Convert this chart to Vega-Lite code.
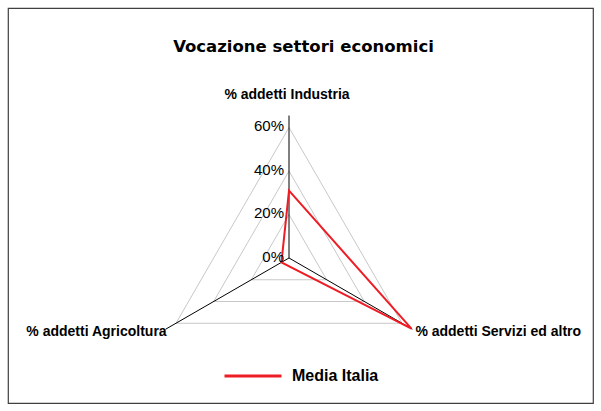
{
  "$schema": "https://vega.github.io/schema/vega-lite/v6.json",
  "autosize": "none",
  "width": 585,
  "height": 395,
  "padding": {"left": 8, "top": 8, "right": 8, "bottom": 8},
  "background": "white",
  "config": {
    "view": {"stroke": "#404040", "strokeWidth": 1.2},
    "font": "Liberation Sans"
  },
  "title": {
    "text": "Vocazione settori economici",
    "font": "DejaVu Sans",
    "fontSize": 16.5,
    "fontWeight": "bold",
    "color": "#000000",
    "anchor": "middle",
    "orient": "top",
    "baseline": "alphabetic",
    "offset": -60,
    "dx": 3
  },
  "datasets": {
    "serie": [
      {"serie": "Media Italia", "asse": "% addetti Industria", "valore": 0.31},
      {"serie": "Media Italia", "asse": "% addetti Servizi ed altro", "valore": 0.65},
      {"serie": "Media Italia", "asse": "% addetti Agricoltura", "valore": 0.04}
    ],
    "assi": [
      {"asse": "% addetti Industria", "valore": 0.655},
      {"asse": "% addetti Servizi ed altro", "valore": 0.655},
      {"asse": "% addetti Agricoltura", "valore": 0.655}
    ],
    "griglia": [
      {"livello": 0.2, "asse": "% addetti Industria", "valore": 0.2},
      {"livello": 0.2, "asse": "% addetti Servizi ed altro", "valore": 0.2},
      {"livello": 0.2, "asse": "% addetti Agricoltura", "valore": 0.2},
      {"livello": 0.4, "asse": "% addetti Industria", "valore": 0.4},
      {"livello": 0.4, "asse": "% addetti Servizi ed altro", "valore": 0.4},
      {"livello": 0.4, "asse": "% addetti Agricoltura", "valore": 0.4},
      {"livello": 0.6, "asse": "% addetti Industria", "valore": 0.6},
      {"livello": 0.6, "asse": "% addetti Servizi ed altro", "valore": 0.6},
      {"livello": 0.6, "asse": "% addetti Agricoltura", "valore": 0.6}
    ],
    "tacche": [
      {"asse": "% addetti Industria", "valore": 0},
      {"asse": "% addetti Industria", "valore": 0.2},
      {"asse": "% addetti Industria", "valore": 0.4},
      {"asse": "% addetti Industria", "valore": 0.6}
    ]
  },
  "encoding": {
    "x": {"field": "px", "type": "quantitative", "axis": null,
          "scale": {"domain": [-1.291954, 1.397701], "nice": false, "zero": false}},
    "y": {"field": "py", "type": "quantitative", "axis": null,
          "scale": {"domain": [-0.666667, 1.149425], "nice": false, "zero": false}}
  },
  "layer": [
    {
      "data": {"name": "griglia"},
      "transform": [
        {"calculate": "indexof(['% addetti Industria', '% addetti Servizi ed altro', '% addetti Agricoltura'], datum.asse)", "as": "k"},
        {"calculate": "datum.valore * cos(PI / 2 - datum.k * 2 * PI / 3)", "as": "px"},
        {"calculate": "datum.valore * sin(PI / 2 - datum.k * 2 * PI / 3)", "as": "py"}
      ],
      "mark": {"type": "line", "interpolate": "linear-closed", "stroke": "#c8c8c8", "strokeWidth": 1},
      "encoding": {
        "detail": {"field": "livello", "type": "nominal"},
        "order": {"field": "k", "type": "quantitative"}
      }
    },
    {
      "data": {"name": "assi"},
      "transform": [
        {"calculate": "indexof(['% addetti Industria', '% addetti Servizi ed altro', '% addetti Agricoltura'], datum.asse)", "as": "k"},
        {"calculate": "datum.valore * cos(PI / 2 - datum.k * 2 * PI / 3)", "as": "px"},
        {"calculate": "datum.valore * sin(PI / 2 - datum.k * 2 * PI / 3)", "as": "py"}
      ],
      "mark": {"type": "rule", "color": "#000000", "strokeWidth": 1},
      "encoding": {
        "x2": {"datum": 0},
        "y2": {"datum": 0}
      }
    },
    {
      "data": {"name": "serie"},
      "transform": [
        {"calculate": "indexof(['% addetti Industria', '% addetti Servizi ed altro', '% addetti Agricoltura'], datum.asse)", "as": "k"},
        {"calculate": "datum.valore * cos(PI / 2 - datum.k * 2 * PI / 3)", "as": "px"},
        {"calculate": "datum.valore * sin(PI / 2 - datum.k * 2 * PI / 3)", "as": "py"}
      ],
      "mark": {"type": "line", "interpolate": "linear-closed", "strokeWidth": 2},
      "encoding": {
        "order": {"field": "k", "type": "quantitative"},
        "color": {
          "field": "serie", "type": "nominal",
          "scale": {"domain": ["Media Italia"], "range": ["#ee1c24"]},
          "legend": {
            "title": null,
            "orient": "none",
            "legendX": 215,
            "legendY": 338,
            "symbolType": "stroke",
            "symbolSize": 3249,
            "symbolStrokeWidth": 3,
            "labelFont": "Liberation Sans",
            "labelFontSize": 16,
            "labelFontWeight": "bold",
            "labelColor": "#000000",
            "labelOffset": 9
          }
        }
      }
    },
    {
      "data": {"name": "tacche"},
      "transform": [
        {"calculate": "indexof(['% addetti Industria', '% addetti Servizi ed altro', '% addetti Agricoltura'], datum.asse)", "as": "k"},
        {"calculate": "datum.valore * cos(PI / 2 - datum.k * 2 * PI / 3)", "as": "px"},
        {"calculate": "datum.valore * sin(PI / 2 - datum.k * 2 * PI / 3)", "as": "py"}
      ],
      "mark": {"type": "text", "align": "right", "baseline": "middle", "dx": -5, "dy": -1,
               "fontSize": 15, "color": "#000000"},
      "encoding": {
        "text": {"field": "valore", "type": "quantitative", "format": ".0%"}
      }
    },
    {
      "data": {"name": "assi"},
      "transform": [
        {"filter": "datum.asse === '% addetti Industria'"},
        {"calculate": "indexof(['% addetti Industria', '% addetti Servizi ed altro', '% addetti Agricoltura'], datum.asse)", "as": "k"},
        {"calculate": "datum.valore * cos(PI / 2 - datum.k * 2 * PI / 3)", "as": "px"},
        {"calculate": "datum.valore * sin(PI / 2 - datum.k * 2 * PI / 3)", "as": "py"}
      ],
      "mark": {"type": "text", "align": "center", "baseline": "alphabetic", "dy": -17, "dx": -2,
               "fontSize": 14, "fontWeight": "bold", "color": "#000000"},
      "encoding": {"text": {"field": "asse", "type": "nominal"}}
    },
    {
      "data": {"name": "assi"},
      "transform": [
        {"filter": "datum.asse === '% addetti Agricoltura'"},
        {"calculate": "indexof(['% addetti Industria', '% addetti Servizi ed altro', '% addetti Agricoltura'], datum.asse)", "as": "k"},
        {"calculate": "datum.valore * cos(PI / 2 - datum.k * 2 * PI / 3)", "as": "px"},
        {"calculate": "datum.valore * sin(PI / 2 - datum.k * 2 * PI / 3)", "as": "py"}
      ],
      "mark": {"type": "text", "align": "right", "baseline": "middle", "dy": 3, "dx": 1,
               "fontSize": 14, "fontWeight": "bold", "color": "#000000"},
      "encoding": {"text": {"field": "asse", "type": "nominal"}}
    },
    {
      "data": {"name": "assi"},
      "transform": [
        {"filter": "datum.asse === '% addetti Servizi ed altro'"},
        {"calculate": "indexof(['% addetti Industria', '% addetti Servizi ed altro', '% addetti Agricoltura'], datum.asse)", "as": "k"},
        {"calculate": "datum.valore * cos(PI / 2 - datum.k * 2 * PI / 3)", "as": "px"},
        {"calculate": "datum.valore * sin(PI / 2 - datum.k * 2 * PI / 3)", "as": "py"}
      ],
      "mark": {"type": "text", "align": "left", "baseline": "middle", "dy": 3, "dx": 3,
               "fontSize": 14, "fontWeight": "bold", "color": "#000000"},
      "encoding": {"text": {"field": "asse", "type": "nominal"}}
    }
  ]
}
